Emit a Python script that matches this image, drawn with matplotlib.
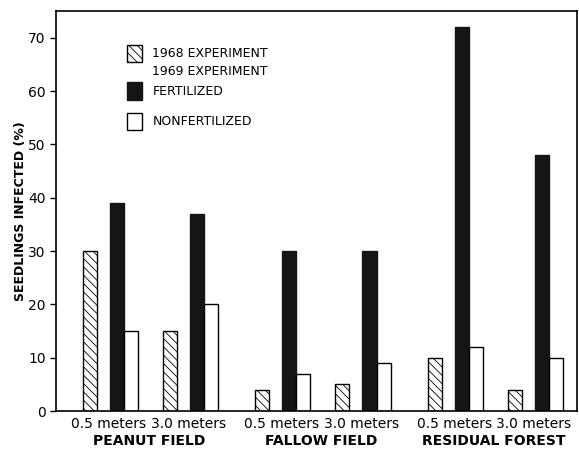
import numpy as np
import matplotlib.pyplot as plt
from matplotlib.patches import Rectangle

# dados (% de mudas infectadas)
distancias = ['0.5 meters', '3.0 meters'] * 3
locais = ['PEANUT FIELD', 'FALLOW FIELD', 'RESIDUAL FOREST']
exp1968 = [30, 15, 4, 5, 10, 4]
fertilizado = [39, 37, 30, 30, 72, 48]
nao_fertilizado = [15, 20, 7, 9, 12, 10]
yticks = [0, 10, 20, 30, 40, 50, 60, 70]

# posicoes dos pares (0.5 m / 3.0 m) em cada local
x = np.array([0, 1, 2.16, 3.16, 4.32, 5.31])
w = 0.175

plt.rcParams['hatch.linewidth'] = 0.6
fig = plt.figure(figsize=(5.79, 4.49), dpi=100)
ax = fig.add_axes([0.0967, 0.0846, 0.8998, 0.8909])

ax.bar(x, exp1968, w, color='white', edgecolor='black', hatch='\\\\\\\\', linewidth=1.0)
ax.bar(x + 0.3375, fertilizado, w, color='#151515', edgecolor='#151515', linewidth=1.0)
ax.bar(x + 0.5125, nao_fertilizado, w, color='white', edgecolor='black', linewidth=1.0)

ax.set_xlim(-0.42, 6.09)
ax.set_ylim(0, 75)
ax.set_yticks(yticks)
ax.tick_params(axis='y', direction='out', length=4, width=1, labelsize=10)
ax.set_xticks(x + 0.24)
ax.set_xticklabels(distancias, fontsize=10)
ax.tick_params(axis='x', length=0, pad=4)
for s in ax.spines.values():
    s.set_linewidth(1.2)

# nomes dos locais abaixo dos rotulos
for i, nome in enumerate(locais):
    xc = (x[2 * i] + x[2 * i + 1]) / 2 + 0.24
    ax.text(xc, -0.057, nome, transform=ax.get_xaxis_transform(),
            ha='center', va='top', fontsize=10, fontweight='bold')

ax.set_ylabel('SEEDLINGS INFECTED (%)', fontsize=9, fontweight='bold', labelpad=1)

# legenda desenhada a mao
lx, lw, lh = 0.137, 0.029, 0.044
ax.add_patch(Rectangle((lx, 0.872), lw, lh, transform=ax.transAxes,
                       facecolor='white', edgecolor='black', hatch='\\\\\\\\', lw=1))
ax.add_patch(Rectangle((lx, 0.778), lw, lh, transform=ax.transAxes,
                       facecolor='#151515', edgecolor='#151515', lw=1))
ax.add_patch(Rectangle((lx, 0.702), lw, lh, transform=ax.transAxes,
                       facecolor='white', edgecolor='black', lw=1))
tx = 0.185
ax.text(tx, 0.894, '1968 EXPERIMENT', transform=ax.transAxes, va='center', fontsize=9)
ax.text(tx, 0.848, '1969 EXPERIMENT', transform=ax.transAxes, va='center', fontsize=9)
ax.text(tx, 0.800, 'FERTILIZED', transform=ax.transAxes, va='center', fontsize=9)
ax.text(tx, 0.724, 'NONFERTILIZED', transform=ax.transAxes, va='center', fontsize=9)

plt.savefig('out.png', dpi=100)
